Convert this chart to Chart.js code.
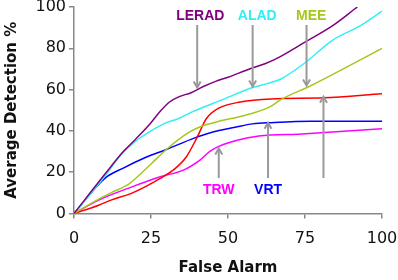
<!DOCTYPE html>
<html>
<head>
<meta charset="utf-8">
<script src="https://cdn.jsdelivr.net/npm/chart.js@4"></script>
<style>
  body { margin: 0; background: #fff; }
  canvas { display: block; }
</style>
</head>
<body>
<canvas id="chart" width="398" height="280"></canvas>
<script>
// detection rate vs false alarm, one x/y pair of arrays per method
var leradX = [0, 10, 16, 20, 25, 28, 31, 34, 38, 42, 46, 50, 57, 62, 67, 75, 84, 92];
var leradY = [0, 19, 30, 36, 44, 49.5, 54, 56.5, 58.5, 61.5, 64, 66, 70, 72.5, 76, 83, 91, 100];

var aladX = [0, 10, 15, 20, 25, 30, 34, 38, 48, 58, 63, 67, 75, 84, 93, 100];
var aladY = [0, 18, 28, 35, 40, 44, 46, 49, 55, 61, 63, 65, 73, 84, 91, 98];

var meeX = [0, 8, 12, 18, 25, 30, 37, 41, 48, 53, 59, 64, 67, 77, 100];
var meeY = [0, 7, 10, 14.5, 24, 31, 39, 42, 45, 46.6, 49, 52, 55, 62, 80];

var redX = [0, 8, 12, 19, 28, 33, 36.5, 40, 43, 47, 54, 64, 81, 100];
var redY = [0, 4, 6.5, 10, 17, 22, 27.5, 37, 46, 51, 54, 55.5, 56, 58];

var vrtX = [0, 10, 16, 23, 30, 39, 44, 53, 58, 64, 77, 100];
var vrtY = [0, 17, 22, 27, 31, 36.5, 39, 42, 43.4, 44, 44.7, 44.7];

var trwX = [0, 8, 19, 28, 35.5, 41, 44, 47, 53, 60, 74, 100];
var trwY = [0, 6.5, 13, 17.8, 21, 26, 30, 32.5, 35.5, 37.5, 38.5, 41];

var xTicks = [0, 25, 50, 75, 100];
var yTicks = [0, 20, 40, 60, 80, 100];

// callouts: label text + where it sits, arrows in data units
var labelText = ["LERAD", "ALAD", "MEE", "TRW", "VRT"];
var labelColor = ["#800080", "#33eef5", "#a4c81e", "#ff00ff", "#0000ff"];
var labelX = [41, 59.5, 77, 47, 63];
var labelY = [95.4, 95.4, 95.4, 11.4, 11.4];

var arrowX = [40, 58, 75.5, 47, 63, 81];
var arrowFromY = [91.3, 91.3, 91.3, 17.2, 17.2, 17.2];
var arrowToY = [61, 61.5, 62, 31.5, 44, 56.5];

function pts(xs, ys) {
  return xs.map(function (x, i) { return { x: x, y: ys[i] }; });
}

function series(name, xs, ys, color) {
  return {
    label: name,
    data: pts(xs, ys),
    borderColor: color,
    borderWidth: 1.5,
    pointRadius: 0,
    fill: false,
    cubicInterpolationMode: "monotone"
  };
}

var calloutPlugin = {
  id: "callouts",
  afterDatasetsDraw: function (chart) {
    var ctx = chart.ctx;
    var xs = chart.scales.x;
    var ys = chart.scales.y;
    ctx.save();
    // arrows
    ctx.strokeStyle = "#999999";
    ctx.lineWidth = 2;
    for (var i = 0; i < arrowX.length; i++) {
      var px = xs.getPixelForValue(arrowX[i]);
      var y0 = ys.getPixelForValue(arrowFromY[i]);
      var y1 = ys.getPixelForValue(arrowToY[i]);
      var dir = y1 > y0 ? 1 : -1;
      ctx.beginPath();
      ctx.moveTo(px, y0);
      ctx.lineTo(px, y1);
      ctx.stroke();
      ctx.beginPath();
      ctx.moveTo(px - 3.5, y1 - dir * 6);
      ctx.lineTo(px, y1);
      ctx.lineTo(px + 3.5, y1 - dir * 6);
      ctx.stroke();
    }
    // method names
    ctx.font = "bold 14px 'Liberation Sans', Arial, sans-serif";
    ctx.textAlign = "center";
    ctx.textBaseline = "middle";
    for (var j = 0; j < labelText.length; j++) {
      ctx.fillStyle = labelColor[j];
      ctx.fillText(labelText[j], xs.getPixelForValue(labelX[j]), ys.getPixelForValue(labelY[j]));
    }
    ctx.restore();
  }
};

var axisColor = "#888888";
var tickFont = { family: "'DejaVu Sans', sans-serif", size: 16 };
var titleFont = { family: "'DejaVu Sans', sans-serif", size: 15, weight: "bold" };

new Chart(document.getElementById("chart"), {
  type: "line",
  data: {
    datasets: [
      series("LERAD", leradX, leradY, "#800080"),
      series("ALAD", aladX, aladY, "#33eef5"),
      series("MEE", meeX, meeY, "#a4c81e"),
      series("Red", redX, redY, "#ff0000"),
      series("VRT", vrtX, vrtY, "#0000ff"),
      series("TRW", trwX, trwY, "#ff00ff")
    ]
  },
  options: {
    responsive: false,
    animation: false,
    layout: { padding: { top: 7, right: 16, bottom: 0, left: 0 } },
    plugins: { legend: { display: false }, tooltip: { enabled: false } },
    scales: {
      x: {
        type: "linear",
        min: 0,
        max: 100,
        afterBuildTicks: function (s) { s.ticks = xTicks.map(function (v) { return { value: v }; }); },
        afterFit: function (s) { s.height = 66.5; s.paddingLeft = 0; s.paddingRight = 0; },
        grid: { drawOnChartArea: false, tickLength: 5, color: axisColor, lineWidth: 1.5 },
        border: { color: axisColor, width: 1.5 },
        ticks: { font: tickFont, color: "#111", padding: 11, maxRotation: 0 },
        title: { display: true, text: "False Alarm", font: titleFont, color: "#111", padding: { top: 0, bottom: 3 } }
      },
      y: {
        min: 0,
        max: 100,
        afterBuildTicks: function (s) { s.ticks = yTicks.map(function (v) { return { value: v }; }); },
        afterFit: function (s) { s.width = 74; s.paddingTop = 0; s.paddingBottom = 0; },
        grid: { drawOnChartArea: false, tickLength: 5, color: axisColor, lineWidth: 1.5 },
        border: { color: axisColor, width: 1.5 },
        ticks: { font: tickFont, color: "#111", padding: 3 },
        title: { display: true, text: "Average Detection %", font: titleFont, color: "#111", padding: { top: 3.5, bottom: 0 } }
      }
    }
  },
  plugins: [calloutPlugin]
});
</script>
</body>
</html>
